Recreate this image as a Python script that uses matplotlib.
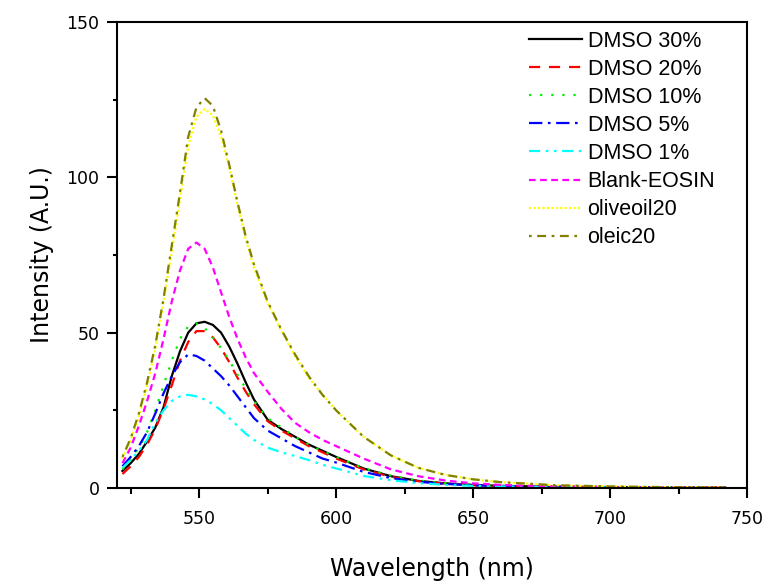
import numpy as np
import matplotlib as mpl
import matplotlib.pyplot as plt
from matplotlib.ticker import MultipleLocator

mpl.rcParams.update({
    'font.family': 'DejaVu Sans',
    'figure.facecolor': 'white',
    'axes.facecolor': 'white',
})

# emission wavelengths (nm), shared by every spectrum
wl = [522, 525, 528, 531, 534, 537, 540, 543, 546, 549, 552, 555, 558, 561,
      564, 567, 570, 575, 580, 585, 590, 595, 600, 610, 620, 630, 640, 650,
      660, 680, 700, 720, 742]

dmso30 = [5.5, 8, 11, 15, 19.5, 26, 36, 44, 50, 53, 53.5, 52.5, 50, 45.5,
          40, 34, 28.5, 22, 19, 16.5, 14, 12, 10, 6.3, 3.8, 2.3, 1.5, 1.0,
          0.7, 0.4, 0.3, 0.2, 0.15]
dmso20 = [4.5, 7, 10, 14, 19, 25.5, 33, 41, 47, 50.5, 50.5, 48.5, 45, 40.5,
          35.5, 31, 27, 21.5, 18.5, 16, 13.5, 11.5, 9.5, 6, 3.6, 2.2, 1.4, 0.9,
          0.6, 0.4, 0.3, 0.2, 0.15]
dmso10 = [6, 9, 13, 18, 25, 33, 41, 48, 52, 53, 51.5, 48.5, 45, 41, 36.5, 32,
          28, 22.5, 19.5, 16.5, 14, 12, 10, 6.4, 4, 2.4, 1.6, 1.0, 0.7, 0.4,
          0.3, 0.2, 0.15]
dmso5 = [7, 10, 13.5, 18, 24, 30.5, 36, 40.5, 43, 42.5, 41, 38.5, 36, 33,
         29.5, 26, 22.5, 18.5, 16, 13.5, 11.5, 9.5, 8.2, 5.2, 3.2, 2, 1.3, 0.9,
         0.6, 0.4, 0.3, 0.2, 0.15]
dmso1 = [6.5, 9, 12, 15.5, 21, 25, 28, 29.5, 30, 29.5, 28.5, 27, 25, 22.5, 20,
         17.5, 15.5, 13, 11.5, 10.3, 9, 7.5, 6.3, 3.9, 2.5, 1.6, 1.0, 0.7, 0.5,
         0.3, 0.2, 0.15, 0.1]
blank = [8, 13, 20, 28, 37, 48, 60, 70, 77, 79, 77, 71, 63, 55, 48, 42, 37,
         31, 25.5, 21, 18, 15.5, 13.5, 9.5, 6, 3.8, 2.4, 1.5, 1.0, 0.5, 0.3,
         0.2, 0.15]
olive20 = [9.5, 15.5, 23, 33, 45, 60, 76, 93, 110, 119.5, 122, 120, 113, 103,
           91, 80, 71, 59.5, 50.5, 42.5, 35.5, 30, 25, 16.5, 10.5, 6.5, 4.2,
           2.8, 1.9, 0.9, 0.5, 0.3, 0.2]
oleic20 = [10, 16, 24, 34, 46, 61, 78, 95, 113, 122.5, 125.5, 123, 115, 104,
           92, 81, 72, 60, 51, 43, 36, 30, 25, 16.5, 10.5, 6.5, 4.2, 2.8, 1.9,
           0.9, 0.5, 0.3, 0.2]

labels = ['DMSO 30%', 'DMSO 20%', 'DMSO 10%', 'DMSO 5%', 'DMSO 1%',
          'Blank-EOSIN', 'oliveoil20', 'oleic20']

styles = [
    ('#000000', '-'),
    ('#ff0000', (0, (5, 4))),
    ('#00ee00', (0, (1, 4))),
    ('#0000ff', (0, (6, 2.5, 1.2, 2.5))),
    ('#00ffff', (0, (5, 2.5, 1.2, 2.5, 1.2, 2.5))),
    ('#ff00ff', (0, (3, 2))),
    ('#ffff00', (0, (1, 1))),
    ('#808000', (0, (1.2, 2.5, 4, 2.5))),
]

fig = plt.figure(figsize=(7.67, 5.86), dpi=100)
ax = fig.add_axes([0.1525, 0.1672, 0.8215, 0.7953])

series = [dmso30, dmso20, dmso10, dmso5, dmso1, blank, olive20, oleic20]
for ys, lbl, (c, ls) in zip(series, labels, styles):
    ax.plot(wl, ys, color=c, linestyle=ls, lw=1.6, label=lbl)

ax.set_xlim(520, 750)
ax.set_ylim(0, 150)
ax.xaxis.set_major_locator(MultipleLocator(50))
ax.xaxis.set_minor_locator(MultipleLocator(25))
ax.yaxis.set_major_locator(MultipleLocator(50))
ax.yaxis.set_minor_locator(MultipleLocator(25))
ax.tick_params(which='major', direction='out', length=7.5, width=1.5,
               labelsize=12.5)
ax.tick_params(axis='x', which='major', pad=8)
ax.tick_params(axis='y', which='major', pad=5)
ax.tick_params(axis='x', which='minor', direction='out', length=4, width=1.5)
ax.tick_params(axis='y', which='minor', direction='out', length=3, width=1.5)
for sp in ax.spines.values():
    sp.set_linewidth(1.5)

ax.set_xlabel('Wavelength (nm)', fontsize=17, labelpad=21)
ax.set_ylabel('Intensity (A.U.)', fontsize=17, labelpad=9)

leg = ax.legend(loc='upper left', frameon=False,
                prop={'family': 'Liberation Sans', 'size': 15.5},
                handlelength=2.45, handletextpad=0.28, labelspacing=0.33,
                borderaxespad=0.0, bbox_to_anchor=(0.64, 1.0))

fig.savefig('out.png', dpi=100)
